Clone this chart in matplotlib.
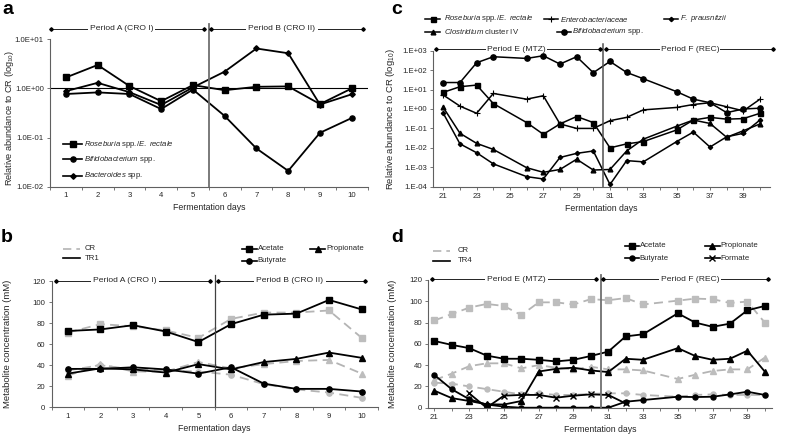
import numpy as np
import matplotlib
matplotlib.use('Agg')
import matplotlib.pyplot as plt
import matplotlib.transforms as mtransforms
from matplotlib.lines import Line2D

plt.rcParams['font.family'] = ['Liberation Sans', 'DejaVu Sans']
plt.rcParams['mathtext.fontset'] = 'custom'
plt.rcParams['mathtext.rm'] = 'Liberation Sans'
plt.rcParams['mathtext.it'] = 'Liberation Sans:italic'

# ---- datos panel a (abundancia relativa, periodo CRO) ----
days_a = [1, 2, 3, 4, 5, 6, 7, 8, 9, 10]
a_roseburia = [1.67, 3.0, 1.12, 0.55, 1.17, 0.92, 1.08, 1.1, 0.48, 1.0]
a_bifido = [0.77, 0.83, 0.77, 0.38, 0.95, 0.275, 0.06, 0.021, 0.125, 0.25]
a_bacteroides = [0.88, 1.3, 0.84, 0.46, 1.05, 2.2, 6.5, 5.2, 0.47, 0.76]
a_yticks = [1e-2, 1e-1, 1e0, 1e1]
a_yticklabels = ['1.0E-02', '1.0E-01', '1.0E+00', '1.0E+01']

# ---- datos panel b (metabolitos, CR vs TR1) ----
b_ace_tr = [72.5, 74, 78, 72, 62, 79, 88, 89, 102, 93]
b_ace_cr = [71, 79, 77, 73, 66, 84, 90, 90, 92, 66]
b_pro_tr = [32, 37, 36, 33, 41, 36, 43, 46, 52, 47]
b_pro_cr = [30, 41, 34, 34, 43, 37, 41, 44, 45, 32]
b_but_tr = [36.5, 36.5, 38, 36, 32, 38, 22.5, 17.5, 17.5, 15]
b_but_cr = [35, 40, 36, 35, 34, 31, 22, 17, 14, 9]

# ---- datos panel c (abundancia relativa, MTZ / REC) ----
days_c = [21, 22, 23, 24, 26, 27, 28, 29, 30, 31, 32, 33, 35, 36, 37, 38, 39, 40]
c_roseburia = [7.2, 14, 17, 1.9, 0.2, 0.05, 0.17, 0.41, 0.2, 0.01, 0.016, 0.021,
               0.083, 0.27, 0.37, 0.3, 0.32, 0.6]
c_clostridium = [1.2, 0.056, 0.017, 0.0083, 0.00095, 0.00055, 0.00077, 0.0026,
                 0.00072, 0.00077, 0.0069, 0.028, 0.13, 0.27, 0.18, 0.035, 0.076, 0.17]
c_entero = [5.2, 1.4, 0.6, 6.3, 3.2, 4.8, 0.17, 0.1, 0.1, 0.25, 0.37, 0.9, 1.2,
            1.7, 2.1, 1.3, 0.8, 3.2]
c_bifido = [23, 23, 240, 490, 400, 550, 205, 490, 74, 280, 76, 36, 7.8, 3.2, 2.1,
            0.65, 1.0, 1.1]
c_fprau = [0.6, 0.016, 0.0056, 0.0015, 0.00033, 0.00025, 0.0032, 0.0052, 0.0069,
           0.00013, 0.0022, 0.0019, 0.021, 0.065, 0.011, 0.037, 0.056, 0.27]
c_yticks = [1e-4, 1e-3, 1e-2, 1e-1, 1e0, 1e1, 1e2, 1e3]
c_yticklabels = ['1.E-04', '1.E-03', '1.E-02', '1.E-01', '1.E+00', '1.E+01',
                 '1.E+02', '1.E+03']

# ---- datos panel d (metabolitos, CR vs TR4) ----
days_d = [21, 22, 23, 24, 25, 26, 27, 28, 29, 30, 31, 32, 33, 35, 36, 37, 38, 39, 40]
d_ace_tr = [62.7, 59, 56, 49, 46, 46, 45, 43.5, 45, 48.6, 52.7, 67, 69, 88.7, 80,
            76, 79, 91.5, 95.6]
d_ace_cr = [82, 88, 94, 97.5, 95.6, 87, 99, 99, 97, 102, 101, 103, 97, 100.6, 102.5,
            102, 98.4, 99.7, 80]
d_pro_tr = [16, 9, 6.3, 3.2, 3, 6.3, 34, 36.5, 37.6, 35, 33.5, 46, 45, 56, 48.6, 45,
            46, 53.6, 34]
d_pro_cr = [26, 32, 39, 41.7, 41.7, 37, 40, 37.6, 36, 38.5, 36, 36, 35, 27, 31, 34.5,
            36, 36, 47]
d_but_tr = [30.7, 17.3, 8, 3, 1, 0, 0, 0, 0, 0, 0, 5.6, 7.2, 10.3, 10, 10.3, 12.5,
            15, 12]
d_but_cr = [23.5, 22.6, 20, 17.5, 15, 12.5, 13.5, 12, 12, 13, 13.5, 13.5, 12, 10.3,
            12, 12.5, 12, 12, 12]
days_formate = [23, 24, 25, 26, 27, 28, 29, 30, 31, 32]
d_formate = [13.5, 0, 11.3, 12, 12, 9.4, 11.3, 12.5, 12, 4]

conc_ticks = [0, 20, 40, 60, 80, 100, 120]

W, H = 785, 446
fig = plt.figure(figsize=(W / 100, H / 100), dpi=100)

TXT = '#262626'
SPINE = '#606060'
GRAY_L = '#b4b4b4'
GRAY_M = '#bdbdbd'
FS_TICK = 5.6
FS_LAB = 6.8


def px_axes(left, top, right, bottom):
    return fig.add_axes([left / W, 1 - bottom / H, (right - left) / W, (bottom - top) / H])


def estilo(ax):
    for s in ('top', 'right'):
        ax.spines[s].set_visible(False)
    for s in ('left', 'bottom'):
        ax.spines[s].set_color(SPINE)
        ax.spines[s].set_linewidth(0.8)
    ax.tick_params(which='both', colors=SPINE, labelcolor=TXT, labelsize=FS_TICK,
                   length=2.5, width=0.6, pad=2)


def periodo(ax, x0, x1, y, texto, tx, pad=1.5):
    tr = mtransforms.blended_transform_factory(ax.transData, ax.transAxes)
    ax.plot([x0, x1], [y, y], transform=tr, color='k', lw=0.6, marker='D', ms=1.8,
            clip_on=False)
    ax.text(tx, y, texto, transform=tr, ha='center', va='center', fontsize=6.1,
            color=TXT, bbox=dict(facecolor='white', edgecolor='none', pad=pad))


def entrada(x0, x1, y, xt, label, **kw):
    # entrada de leyenda dibujada en pixeles de la figura (origen arriba-izquierda)
    ls = kw.pop('ls', '-')
    color = kw.pop('color', 'k')
    lw = kw.pop('lw', 1.2)
    fig.add_artist(Line2D([x0 / W, x1 / W], [1 - y / H, 1 - y / H], color=color,
                          lw=lw, ls=ls))
    if 'marker' in kw:
        fig.add_artist(Line2D([(x0 + x1) / 2 / W], [1 - y / H], color=color, ls='none',
                              **kw))
    fig.text(xt / W, 1 - y / H, label, fontsize=5.6, color=TXT, va='center',
             ha='left')


tr_kw = dict(color='k', lw=1.3)
cr_kw = dict(color=GRAY_L, lw=1.3, ls=(0, (5, 3)), mfc=GRAY_M, mec=GRAY_M)

# ---------------- panel a ----------------
ax_a = px_axes(50, 39.3, 367.6, 186.7)
estilo(ax_a)
ax_a.plot(days_a, a_roseburia, marker='s', ms=4.3, **tr_kw)
ax_a.plot(days_a, a_bifido, marker='o', ms=3.7, **tr_kw)
ax_a.plot(days_a, a_bacteroides, marker='D', ms=2.8, **tr_kw)
ax_a.axhline(1.0, color='k', lw=0.8)
ax_a.set_yscale('log')
ax_a.set_ylim(1e-2, 1e1)
ax_a.set_yticks(a_yticks)
ax_a.set_yticklabels(a_yticklabels)
ax_a.yaxis.set_minor_locator(matplotlib.ticker.NullLocator())
ax_a.set_xlim(0.5, 10.5)
ax_a.set_xticks(days_a)
ax_a.set_xticks(np.arange(0.5, 11, 1), minor=True)
ax_a.tick_params(axis='x', which='major', length=0, pad=4)
ax_a.axvline(5.5, ymin=0, ymax=1.105, color='#707070', lw=1.3, clip_on=False)
periodo(ax_a, 0.53, 5.36, 1.07, 'Period A (CRO I)', 2.75)
periodo(ax_a, 5.56, 10.35, 1.07, 'Period B (CRO II)', 7.8)
ax_a.set_xlabel('Fermentation days', fontsize=6.3, color=TXT, labelpad=3)
ax_a.set_ylabel('Relative abundance to CR (log$_{10}$)', fontsize=6.6, color=TXT)
ax_a.yaxis.set_label_coords(-0.108, 0.47)

# ---------------- panel b ----------------
ax_b = px_axes(51.5, 281, 378, 407.3)
estilo(ax_b)
ax_b.plot(days_a, b_ace_cr, marker='s', ms=4.2, **cr_kw)
ax_b.plot(days_a, b_pro_cr, marker='^', ms=4.0, **cr_kw)
ax_b.plot(days_a, b_but_cr, marker='o', ms=3.8, **cr_kw)
ax_b.plot(days_a, b_ace_tr, marker='s', ms=4.3, **tr_kw)
ax_b.plot(days_a, b_pro_tr, marker='^', ms=4.0, **tr_kw)
ax_b.plot(days_a, b_but_tr, marker='o', ms=3.8, **tr_kw)
ax_b.set_ylim(0, 120)
ax_b.set_yticks(conc_ticks)
ax_b.set_xlim(0.5, 10.5)
ax_b.set_xticks(days_a)
ax_b.set_xticks(np.arange(0.5, 11, 1), minor=True)
ax_b.tick_params(axis='x', which='major', length=0, pad=4)
ax_b.axvline(5.5, ymin=0, ymax=1.05, color='#404040', lw=0.9, clip_on=False)
periodo(ax_b, 0.63, 5.35, 1.0, 'Period A (CRO I)', 2.75)
periodo(ax_b, 5.6, 10.1, 1.0, 'Period B (CRO II)', 7.8)
ax_b.set_xlabel('Fermentation days', fontsize=6.3, color=TXT, labelpad=3)
ax_b.set_ylabel('Metabolite concentration (mM)', fontsize=FS_LAB, color=TXT)
ax_b.yaxis.set_label_coords(-0.12, 0.5)

# ---------------- panel c ----------------
ax_c = px_axes(433.3, 50.7, 770, 186.7)
estilo(ax_c)
ax_c.plot(days_c, c_roseburia, marker='s', ms=3.6, color='k', lw=1.1)
ax_c.plot(days_c, c_clostridium, marker='^', ms=3.4, color='k', lw=1.1)
ax_c.plot(days_c, c_entero, marker='+', ms=4.5, mew=0.8, color='k', lw=1.1)
ax_c.plot(days_c, c_bifido, marker='o', ms=3.8, color='k', lw=1.1)
ax_c.plot(days_c, c_fprau, marker='D', ms=2.2, color='k', lw=1.1)
ax_c.set_yscale('log')
ax_c.set_ylim(1e-4, 1e3)
ax_c.set_yticks(c_yticks)
ax_c.set_yticklabels(c_yticklabels)
ax_c.yaxis.set_minor_locator(matplotlib.ticker.NullLocator())
ax_c.set_xlim(20.4, 40.6)
ax_c.set_xticks(np.arange(21, 41, 2))
ax_c.set_xticks(np.arange(21, 41, 1), minor=True)
ax_c.axvline(30.6, ymin=0, ymax=1.05, color='#505050', lw=1.1, clip_on=False)
periodo(ax_c, 20.55, 30.4, 1.012, 'Period E (MTZ)', 25.4, pad=0.6)
periodo(ax_c, 30.75, 40.8, 1.012, 'Period F (REC)', 35.8, pad=0.6)
ax_c.set_xlabel('Fermentation days', fontsize=6.3, color=TXT, labelpad=3)
ax_c.set_ylabel('Relative abundance to CR (log$_{10}$)', fontsize=FS_LAB, color=TXT)
ax_c.yaxis.set_label_coords(-0.108, 0.5)

# ---------------- panel d ----------------
ax_d = px_axes(428.3, 280, 771.7, 407.7)
estilo(ax_d)
ax_d.plot(days_d, d_ace_cr, marker='s', ms=4.0, **cr_kw)
ax_d.plot(days_d, d_pro_cr, marker='^', ms=3.8, **cr_kw)
ax_d.plot(days_d, d_but_cr, marker='o', ms=3.6, **cr_kw)
ax_d.plot(days_d, d_ace_tr, marker='s', ms=4.0, **tr_kw)
ax_d.plot(days_d, d_pro_tr, marker='^', ms=3.8, **tr_kw)
ax_d.plot(days_d, d_but_tr, marker='o', ms=3.6, **tr_kw)
ax_d.plot(days_formate, d_formate, marker='x', ms=4.0, mew=1.0, **tr_kw)
ax_d.set_ylim(0, 120)
ax_d.set_yticks(conc_ticks)
ax_d.set_xlim(20.65, 40.4)
ax_d.set_xticks(np.arange(21, 41, 2))
ax_d.set_xticks(np.arange(21, 41, 1), minor=True)
ax_d.axvline(30.56, ymin=0, ymax=1.04, color='#707070', lw=1.3, clip_on=False)
periodo(ax_d, 20.85, 30.3, 1.005, 'Period E (MTZ)', 25.7)
periodo(ax_d, 30.7, 40.2, 1.005, 'Period F (REC)', 35.7)
ax_d.set_xlabel('Fermentation days', fontsize=6.3, color=TXT, labelpad=3)
ax_d.set_ylabel('Metabolite concentration (mM)', fontsize=FS_LAB, color=TXT)
ax_d.yaxis.set_label_coords(-0.091, 0.5)

# ---------------- leyendas ----------------
ros_lab = r'$\mathit{Roseburia}$ spp./$\mathit{E.\ rectale}$'
# panel a
entrada(63, 82, 144, 84, ros_lab, marker='s', ms=4.3)
entrada(63, 82, 159.3, 84, r'$\mathit{Bifidobacterium}$ spp.', marker='o', ms=3.7)
entrada(63, 82, 175.7, 84, r'$\mathit{Bacteroides}$ spp.', marker='D', ms=2.8)
# panel c
entrada(425, 440, 19, 444, ros_lab, marker='s', ms=3.6, lw=1.1)
entrada(544, 558, 19, 559.5, r'$\mathit{Enterobacteriaceae}$', marker='+', ms=4.5,
        mew=0.8, lw=1.1)
entrada(664, 678, 19, 679.5, r'$\mathit{F.\ prausnitzii}$', marker='D', ms=2.2, lw=1.1)
entrada(425, 440, 31.7, 444, r'$\mathit{Clostridium}$ cluster IV', marker='^', ms=3.4,
        lw=1.1)
entrada(557, 571, 31.7, 572.5, r'$\mathit{Bifidobacterium}$ spp.', marker='o', ms=3.8,
        lw=1.1)
# panel b
entrada(63, 80, 249, 85, 'CR', color=GRAY_L, ls=(0, (5, 3)))
entrada(63, 80, 258, 85, 'TR1')
entrada(242, 256.5, 249, 257.5, 'Acetate', marker='s', ms=4.2)
entrada(310, 325, 249, 326, 'Propionate', marker='^', ms=4.0)
entrada(242, 256.5, 261, 257.5, 'Butyrate', marker='o', ms=3.8)
# panel d
entrada(433, 450, 250.7, 458, 'CR', color=GRAY_L, ls=(0, (5, 3)))
entrada(433, 450, 261, 458, 'TR4')
entrada(625, 638.5, 245.7, 639.5, 'Acetate', marker='s', ms=4.0)
entrada(705, 719.5, 245.7, 720.5, 'Propionate', marker='^', ms=3.8)
entrada(625, 638.5, 258.3, 639.5, 'Butyrate', marker='o', ms=3.6)
entrada(705, 719.5, 258.3, 720.5, 'Formate', marker='x', ms=4.0, mew=1.0)

# etiquetas de panel
for letra, x, y in (('a', 2, 14), ('b', 1, 242), ('c', 391, 13.5), ('d', 391, 242)):
    fig.text(x / W, 1 - y / H, letra, fontsize=14, fontweight='bold', va='baseline',
             ha='left', color='k')

fig.savefig('out.png', dpi=100)
